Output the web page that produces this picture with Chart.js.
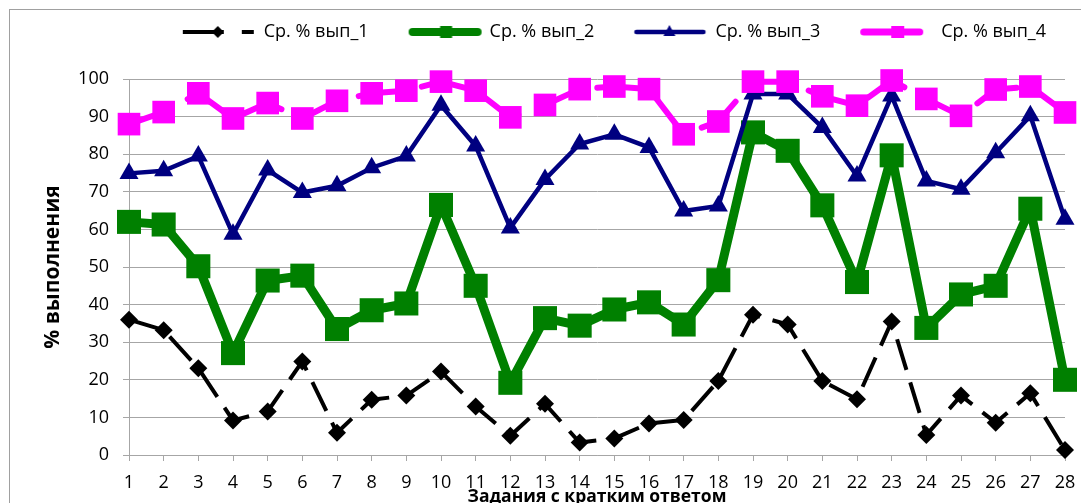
<!DOCTYPE html>
<html>
<head>
<meta charset="utf-8">
<script src="https://cdn.jsdelivr.net/npm/chart.js@4.4.0/dist/chart.umd.min.js"></script>
<style>
  html, body { margin: 0; padding: 0; background: #fff; overflow: hidden; }
  #wrap { position: relative; width: 1081px; height: 503px; }
</style>
</head>
<body>
<div id="wrap"><canvas id="chart" width="1081" height="503"></canvas></div>
<script>
const tasks = ['1','2','3','4','5','6','7','8','9','10','11','12','13','14',
               '15','16','17','18','19','20','21','22','23','24','25','26','27','28'];

const vyp1 = [36, 33.2, 23.1, 9.2, 11.6, 24.9, 5.9, 14.7, 15.8, 22.2, 12.9, 5.1, 13.6, 3.3,
              4.4, 8.4, 9.3, 19.7, 37.3, 34.7, 19.7, 14.8, 35.5, 5.3, 15.8, 8.6, 16.4, 1.3];
const vyp2 = [62, 61.3, 50.2, 27.1, 46.4, 47.7, 33.5, 38.5, 40.3, 66.5, 45, 19.2, 36.4, 34.4,
              38.7, 40.6, 34.7, 46.5, 85.8, 80.9, 66.4, 46, 79.7, 33.8, 42.7, 45, 65.5, 20];
const vyp3 = [74.9, 75.6, 79.5, 58.7, 75.8, 69.8, 71.6, 76.4, 79.5, 93, 82.2, 60.4, 73.3, 82.7,
              85.3, 81.8, 64.9, 66.2, 96, 96, 87.1, 74.2, 95.5, 72.9, 70.7, 80.4, 90.2, 62.7];
const vyp4 = [88, 91.2, 96.2, 89.5, 93.6, 89.5, 94.2, 96.2, 96.9, 99.3, 96.9, 89.8, 93.1, 97.3,
              98, 97.3, 85.3, 88.7, 99.3, 99.3, 95.4, 92.9, 99.6, 94.7, 90.2, 97.2, 98, 91.1];

const seriesNames = ['Ср. % вып_1', 'Ср. % вып_2', 'Ср. % вып_3', 'Ср. % вып_4'];
const yTicks = [0, 10, 20, 30, 40, 50, 60, 70, 80, 90, 100];

const FONT = "'Open Sans', 'Noto Sans', sans-serif";
const GRID = '#a6a6a6';

// legend samples: line + marker, like excel draws them
// image is wider than the legend box so the sample can run up to the text
function legendSample(kind) {
  const c = document.createElement('canvas');
  c.width = 109; c.height = 20;
  const g = c.getContext('2d');
  const y = 10;
  if (kind === 0) {
    g.strokeStyle = '#000'; g.lineWidth = 4;
    g.setLineDash([41, 18]);
    g.beginPath(); g.moveTo(29, y); g.lineTo(100, y); g.stroke();
    g.fillStyle = '#000';
    g.beginPath(); g.moveTo(64, y - 6); g.lineTo(70, y); g.lineTo(64, y + 6); g.lineTo(58, y); g.closePath(); g.fill();
  } else if (kind === 1) {
    g.strokeStyle = '#008000'; g.lineWidth = 8; g.lineCap = 'round';
    g.beginPath(); g.moveTo(33, y); g.lineTo(98, y); g.stroke();
    g.fillStyle = '#008000'; g.fillRect(60.5, y - 6, 12, 12);
  } else if (kind === 2) {
    g.strokeStyle = '#000080'; g.lineWidth = 4.5; g.lineCap = 'round';
    g.beginPath(); g.moveTo(31, y); g.lineTo(98, y); g.stroke();
    g.fillStyle = '#000080';
    g.beginPath(); g.moveTo(64, y - 7); g.lineTo(70, y + 4); g.lineTo(58, y + 4); g.closePath(); g.fill();
  } else {
    g.strokeStyle = '#ff00ff'; g.lineWidth = 7; g.lineCap = 'round';
    g.beginPath(); g.moveTo(32.5, y); g.lineTo(88.5, y); g.stroke();
    g.fillStyle = '#ff00ff'; g.fillRect(60, y - 6, 13, 12);
  }
  return c;
}
const samples = [0, 1, 2, 3].map(legendSample);

const framePlugin = {
  id: 'frame',
  beforeInit(chart) {
    // extra room under the legend
    const fit = chart.legend.fit;
    chart.legend.fit = function () {
      fit.bind(chart.legend)();
      this.height += 28;
    };
  },
  beforeDraw(chart) {
    const ctx = chart.ctx;
    ctx.save();
    ctx.fillStyle = '#fff';
    ctx.fillRect(0, 0, chart.width, chart.height);
    ctx.strokeStyle = '#a0a0a0';
    ctx.lineWidth = 1;
    ctx.strokeRect(9.5, 9.5, 1200, 700);
    ctx.restore();
  }
};

const ctx = document.getElementById('chart').getContext('2d');
new Chart(ctx, {
  type: 'line',
  data: {
    labels: tasks,
    datasets: [{
      label: seriesNames[0],
      data: vyp1,
      borderColor: '#000',
      backgroundColor: '#000',
      borderWidth: 4,
      borderDash: [32, 13],
      pointStyle: 'rectRot',
      pointRadius: 9,
      pointBorderWidth: 0,
      order: 4,
      clip: false
    }, {
      label: seriesNames[1],
      data: vyp2,
      borderColor: '#008000',
      backgroundColor: '#008000',
      borderWidth: 9,
      borderJoinStyle: 'round',
      pointStyle: 'rect',
      pointRadius: 17,
      pointBorderWidth: 0,
      order: 3,
      clip: false
    }, {
      label: seriesNames[2],
      data: vyp3,
      borderColor: '#000080',
      backgroundColor: '#000080',
      borderWidth: 4.5,
      pointStyle: 'triangle',
      pointRadius: 11,
      pointBorderWidth: 0,
      order: 2,
      clip: false
    }, {
      label: seriesNames[3],
      data: vyp4,
      borderColor: '#ff00ff',
      backgroundColor: '#ff00ff',
      borderWidth: 6,
      borderDash: [44, 20],
      borderCapStyle: 'round',
      pointStyle: 'rect',
      pointRadius: 16,
      pointBorderWidth: 0,
      order: 1,
      clip: false
    }]
  },
  options: {
    responsive: false,
    animation: false,
    devicePixelRatio: 1,
    layout: { autoPadding: false, padding: { left: 10, right: 16, top: 4, bottom: 0 } },
    plugins: {
      tooltip: { enabled: false },
      legend: {
        position: 'top',
        align: 'end',
        labels: {
          font: { family: FONT, size: 18 },
          color: '#000',
          usePointStyle: true,
          pointStyleWidth: 93,
          padding: 19,
          generateLabels: chart => chart.data.datasets.map((ds, i) => ({
            text: ds.label,
            pointStyle: samples[i],
            fillStyle: ds.borderColor,
            strokeStyle: ds.borderColor,
            lineWidth: 0,
            hidden: false,
            datasetIndex: i,
            fontColor: '#000'
          }))
        }
      }
    },
    scales: {
      x: {
        offset: false,
        grid: { drawOnChartArea: false, tickLength: 6, color: GRID },
        border: { color: GRID },
        ticks: { font: { family: FONT, size: 18 }, color: '#000', padding: 11, maxRotation: 0, autoSkip: false },
        title: {
          display: true,
          text: 'Задания с кратким ответом',
          font: { family: FONT, size: 17.5, weight: 'bold' },
          color: '#000',
          padding: { top: 0, bottom: -5 }
        },
        afterFit: s => {
          s.height = 48;
          // end labels may hang over the plot edge, like excel
          s.paddingLeft = 0;
          s.paddingRight = 0;
        }
      },
      y: {
        min: 0,
        max: 100,
        afterBuildTicks: s => { s.ticks = yTicks.map(v => ({ value: v })); },
        grid: { color: GRID, tickLength: 6 },
        border: { color: GRID },
        ticks: { font: { family: FONT, size: 18 }, color: '#000', padding: 14 },
        title: {
          display: true,
          text: '% выполнения',
          font: { family: FONT, size: 21, weight: 'bold' },
          color: '#000',
          padding: { top: 30, bottom: 0 }
        },
        afterFit: s => { s.width = 119; }
      }
    }
  },
  plugins: [framePlugin]
});
</script>
</body>
</html>
